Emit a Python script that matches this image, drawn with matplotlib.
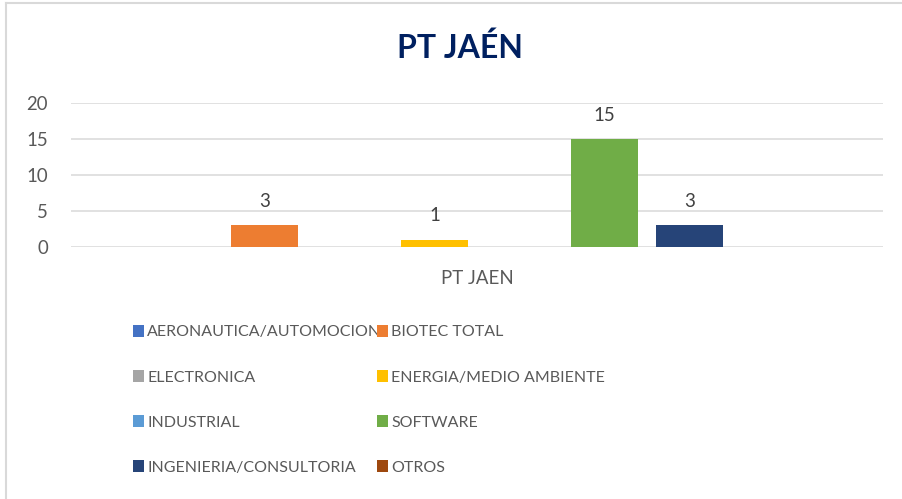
import matplotlib.pyplot as plt
from matplotlib.lines import Line2D

plt.rcParams['font.family'] = ['Lato', 'DejaVu Sans']

sectores = ['AERONAUTICA/AUTOMOCION', 'BIOTEC TOTAL', 'ELECTRONICA', 'ENERGIA/MEDIO AMBIENTE',
            'INDUSTRIAL', 'SOFTWARE', 'INGENIERIA/CONSULTORIA', 'OTROS']
valores = [0, 3, 0, 1, 0, 15, 3, 0]
colores = ['#4472C4', '#ED7D31', '#A5A5A5', '#FFC000', '#5B9BD5', '#70AD47', '#264478', '#9E480E']
categoria = 'PT JAEN'

fig = plt.figure(figsize=(9.02, 4.99), dpi=100)
ax = fig.add_axes([0.0787, 0.5056, 0.9003, 0.2886])

barras = []
for i, (s, v, c) in enumerate(zip(sectores, valores, colores)):
    b = ax.bar(i, v, width=0.79, color=c, label=s, zorder=3)
    barras.append(b)
    if v:
        ax.annotate(str(v), (i, v), xytext=(0, 13), textcoords='offset points',
                    ha='center', va='baseline', fontsize=13.4, color='#404040')

ax.set_xlim(-1.27, 8.27)
ax.set_ylim(0, 20)
ax.set_yticks([0, 5, 10, 15, 20])
ax.set_xticks([3.5])
ax.set_xticklabels([categoria])
ax.tick_params(axis='both', length=0, labelsize=13.4, labelcolor='#595959')
ax.tick_params(axis='y', pad=16.5)
ax.tick_params(axis='x', pad=17)
ax.grid(axis='y', color='#D9D9D9', lw=1.1, zorder=0)
for sp in ax.spines.values():
    sp.set_visible(False)

fig.text(0.51, 0.884, 'PT JAÉN', ha='center', va='baseline', fontsize=23,
         fontweight='bold', color='#002060')

# leyenda en dos columnas (orden por filas)
opts = dict(loc='upper left', frameon=False, fontsize=11.5, labelcolor='#595959',
            borderpad=0, borderaxespad=0, handlelength=0.7, handleheight=0.76,
            handletextpad=0.2, labelspacing=1.92)
for col, x0 in zip(([0, 2, 4, 6], [1, 3, 5, 7]), (133, 377)):
    fig.legend([barras[i] for i in col], [sectores[i] for i in col],
               bbox_to_anchor=(x0 / 902, 1 - 325 / 499), **opts)

# borde del grafico
fig.add_artist(Line2D([0.0072, 1], [0.993, 0.993], transform=fig.transFigure, color='#D9D9D9', lw=1.5))
fig.add_artist(Line2D([0.0072, 0.0072], [0, 0.993], transform=fig.transFigure, color='#D9D9D9', lw=1.5))

fig.savefig('out.png', dpi=100)
